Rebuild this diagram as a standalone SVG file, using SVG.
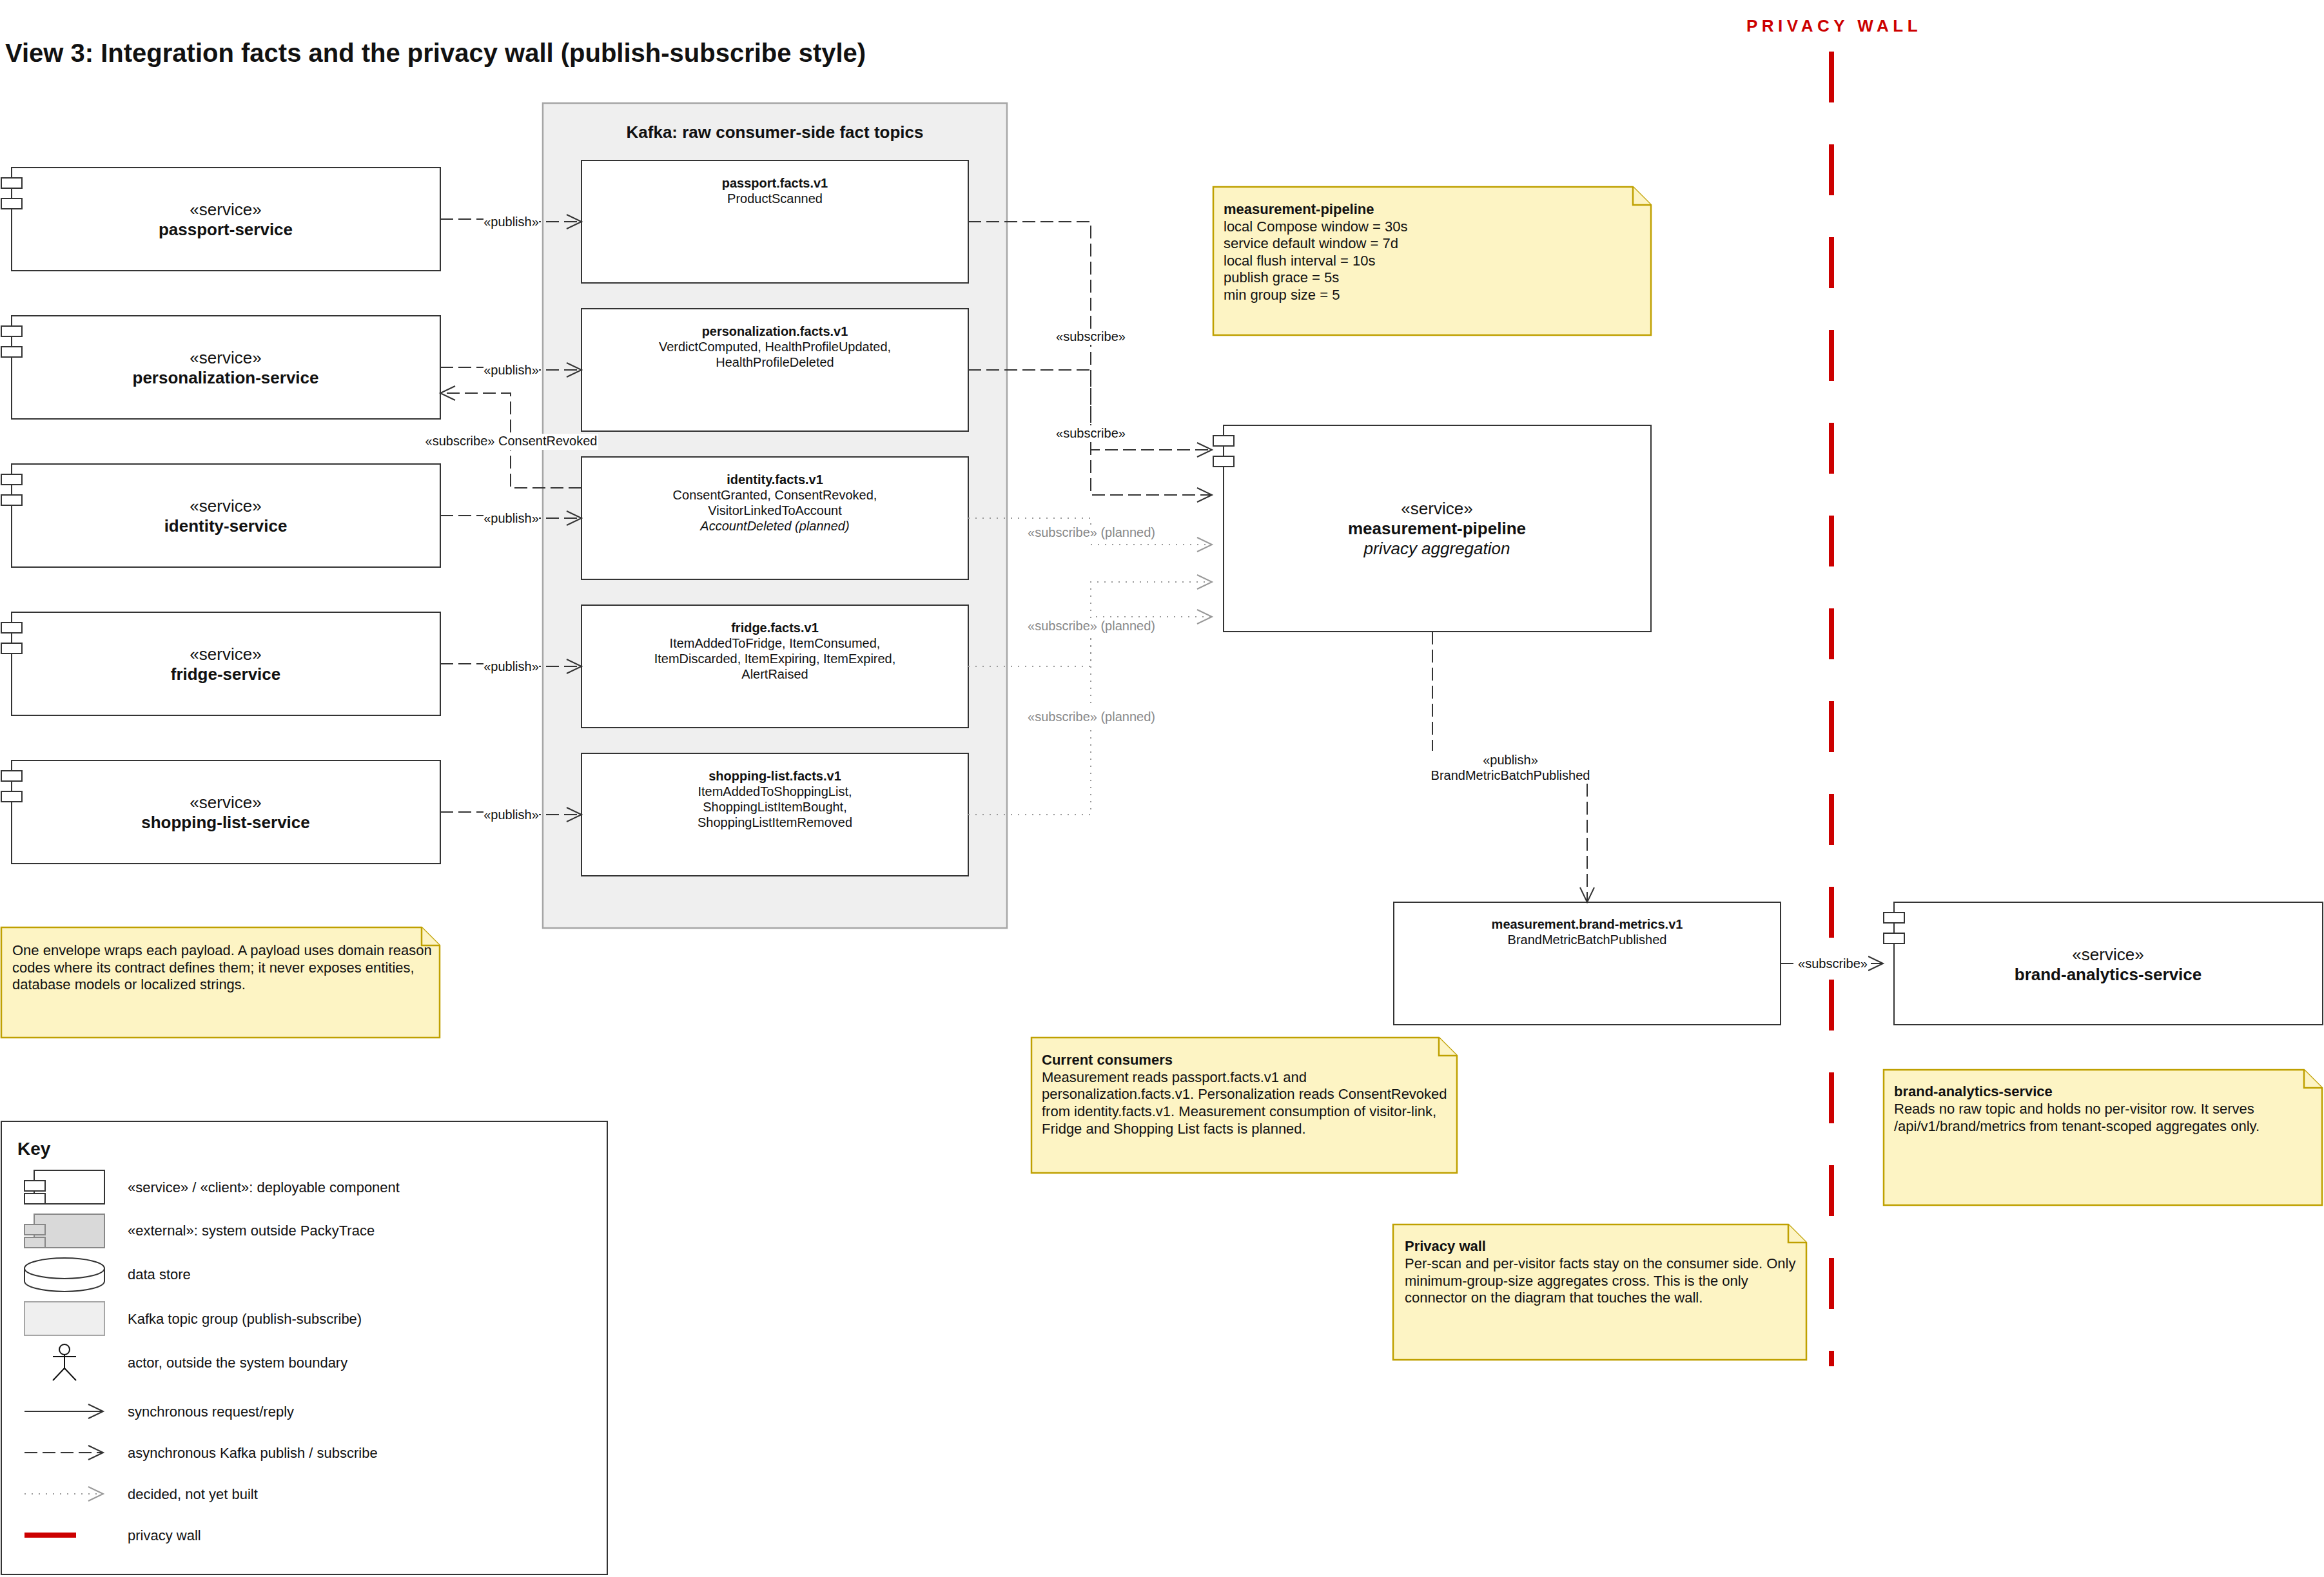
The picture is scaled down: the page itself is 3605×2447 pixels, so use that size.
<svg xmlns="http://www.w3.org/2000/svg" width="3605" height="2447" viewBox="0 0 3605 2447">
<style>
.t{font-family:"Liberation Sans",Arial,Helvetica,sans-serif;fill:#111}
.b{font-weight:bold}
.i{font-style:italic}
.box{fill:#fff;stroke:#333;stroke-width:2}
.note{fill:#fdf4c4;stroke:#bfa000;stroke-width:2.5}
.grp{fill:#efefef;stroke:#a6a6a6;stroke-width:2.5}
.svc{font-size:26px;text-anchor:middle}
.topic{font-size:20px;text-anchor:middle}
.lbl{font-size:20px;text-anchor:middle}
.gray{fill:#888}
.nt{font-size:22px}
.key{font-size:22px}
.dash{fill:none;stroke:#333;stroke-width:2;stroke-dasharray:20 8}
.dot{fill:none;stroke:#999;stroke-width:2;stroke-dasharray:2 9}
.solid{fill:none;stroke:#333;stroke-width:2}
.bg{fill:#fff}
.wall{stroke:#cc0000;stroke-width:8;fill:none}
</style>
<defs>
<marker id="arr" markerUnits="userSpaceOnUse" markerWidth="30" markerHeight="30" refX="24" refY="12" orient="auto" overflow="visible">
<path d="M1,1 L24,12 L1,23" fill="none" stroke="#333" stroke-width="2" stroke-dasharray="none"/>
</marker>
<marker id="arrg" markerUnits="userSpaceOnUse" markerWidth="30" markerHeight="30" refX="24" refY="12" orient="auto" overflow="visible">
<path d="M1,1 L24,12 L1,23" fill="none" stroke="#999" stroke-width="2" stroke-dasharray="none"/>
</marker>
</defs>
<rect x="0" y="0" width="3605" height="2447" fill="#fff"/>

<text class="t b" x="8" y="96" font-size="40">View 3: Integration facts and the privacy wall (publish-subscribe style)</text>

<!-- privacy wall -->
<g id="privacy-wall">
<text class="t b" x="2845" y="49" font-size="26" text-anchor="middle" letter-spacing="6.5" style="fill:#cc0000">PRIVACY WALL</text>
<line class="wall" x1="2841" y1="80" x2="2841" y2="2120" stroke-dasharray="79 65"/>
</g>

<!-- Kafka group -->
<g id="kafka-group">
<rect class="grp" x="842" y="160" width="720" height="1280"/>
<text class="t b" x="1202" y="214" font-size="26" text-anchor="middle">Kafka: raw consumer-side fact topics</text>
</g>

<g id="topic-passport">
<rect class="box" x="902" y="249" width="600" height="190"/>
<text class="t topic b" x="1202" y="291">passport.facts.v1</text>
<text class="t topic" x="1202" y="315">ProductScanned</text>
</g>
<g id="topic-personalization">
<rect class="box" x="902" y="479" width="600" height="190"/>
<text class="t topic b" x="1202" y="521">personalization.facts.v1</text>
<text class="t topic" x="1202" y="545">VerdictComputed, HealthProfileUpdated,</text>
<text class="t topic" x="1202" y="569">HealthProfileDeleted</text>
</g>
<g id="topic-identity">
<rect class="box" x="902" y="709" width="600" height="190"/>
<text class="t topic b" x="1202" y="751">identity.facts.v1</text>
<text class="t topic" x="1202" y="775">ConsentGranted, ConsentRevoked,</text>
<text class="t topic" x="1202" y="799">VisitorLinkedToAccount</text>
<text class="t topic i" x="1202" y="823">AccountDeleted (planned)</text>
</g>
<g id="topic-fridge">
<rect class="box" x="902" y="939" width="600" height="190"/>
<text class="t topic b" x="1202" y="981">fridge.facts.v1</text>
<text class="t topic" x="1202" y="1005">ItemAddedToFridge, ItemConsumed,</text>
<text class="t topic" x="1202" y="1029">ItemDiscarded, ItemExpiring, ItemExpired,</text>
<text class="t topic" x="1202" y="1053">AlertRaised</text>
</g>
<g id="topic-shopping-list">
<rect class="box" x="902" y="1169" width="600" height="190"/>
<text class="t topic b" x="1202" y="1211">shopping-list.facts.v1</text>
<text class="t topic" x="1202" y="1235">ItemAddedToShoppingList,</text>
<text class="t topic" x="1202" y="1259">ShoppingListItemBought,</text>
<text class="t topic" x="1202" y="1283">ShoppingListItemRemoved</text>
</g>

<!-- services -->
<g id="passport-service">
<rect class="box" x="18" y="260" width="665" height="160"/>
<rect class="box" x="2" y="276" width="32" height="16"/>
<rect class="box" x="2" y="308" width="32" height="16"/>
<text class="t svc" x="350" y="334">«service»</text>
<text class="t svc b" x="350" y="365">passport-service</text>
</g>
<g id="personalization-service">
<rect class="box" x="18" y="490" width="665" height="160"/>
<rect class="box" x="2" y="506" width="32" height="16"/>
<rect class="box" x="2" y="538" width="32" height="16"/>
<text class="t svc" x="350" y="564">«service»</text>
<text class="t svc b" x="350" y="595">personalization-service</text>
</g>
<g id="identity-service">
<rect class="box" x="18" y="720" width="665" height="160"/>
<rect class="box" x="2" y="736" width="32" height="16"/>
<rect class="box" x="2" y="768" width="32" height="16"/>
<text class="t svc" x="350" y="794">«service»</text>
<text class="t svc b" x="350" y="825">identity-service</text>
</g>
<g id="fridge-service">
<rect class="box" x="18" y="950" width="665" height="160"/>
<rect class="box" x="2" y="966" width="32" height="16"/>
<rect class="box" x="2" y="998" width="32" height="16"/>
<text class="t svc" x="350" y="1024">«service»</text>
<text class="t svc b" x="350" y="1055">fridge-service</text>
</g>
<g id="shopping-list-service">
<rect class="box" x="18" y="1180" width="665" height="160"/>
<rect class="box" x="2" y="1196" width="32" height="16"/>
<rect class="box" x="2" y="1228" width="32" height="16"/>
<text class="t svc" x="350" y="1254">«service»</text>
<text class="t svc b" x="350" y="1285">shopping-list-service</text>
</g>

<g id="measurement-pipeline">
<rect class="box" x="1898" y="660" width="663" height="320"/>
<rect class="box" x="1882" y="676" width="32" height="16"/>
<rect class="box" x="1882" y="708" width="32" height="16"/>
<text class="t svc" x="2229" y="798">«service»</text>
<text class="t svc b" x="2229" y="829">measurement-pipeline</text>
<text class="t svc i" x="2229" y="860">privacy aggregation</text>
</g>

<g id="topic-brand-metrics">
<rect class="box" x="2162" y="1400" width="600" height="190"/>
<text class="t topic b" x="2462" y="1441">measurement.brand-metrics.v1</text>
<text class="t topic" x="2462" y="1465">BrandMetricBatchPublished</text>
</g>

<g id="brand-analytics-service">
<rect class="box" x="2938" y="1400" width="665" height="190"/>
<rect class="box" x="2922" y="1416" width="32" height="16"/>
<rect class="box" x="2922" y="1448" width="32" height="16"/>
<text class="t svc" x="3270" y="1490">«service»</text>
<text class="t svc b" x="3270" y="1521">brand-analytics-service</text>
</g>

<!-- notes -->
<g id="note-measurement">
<path class="note" d="M1882,290 H2533 L2561,318 V520 H1882 Z"/>
<path class="note" d="M2533,290 V318 H2561"/>
<text class="t nt b" x="1898" y="332">measurement-pipeline</text>
<text class="t nt" x="1898" y="358.5">local Compose window = 30s</text>
<text class="t nt" x="1898" y="385">service default window = 7d</text>
<text class="t nt" x="1898" y="411.5">local flush interval = 10s</text>
<text class="t nt" x="1898" y="438">publish grace = 5s</text>
<text class="t nt" x="1898" y="464.5">min group size = 5</text>
</g>
<g id="note-envelope">
<path class="note" d="M2,1439 H654 L682,1467 V1610 H2 Z"/>
<path class="note" d="M654,1439 V1467 H682"/>
<text class="t nt" x="19" y="1482">One envelope wraps each payload. A payload uses domain reason</text>
<text class="t nt" x="19" y="1508.5">codes where its contract defines them; it never exposes entities,</text>
<text class="t nt" x="19" y="1535">database models or localized strings.</text>
</g>
<g id="note-consumers">
<path class="note" d="M1600,1610 H2232 L2260,1638 V1820 H1600 Z"/>
<path class="note" d="M2232,1610 V1638 H2260"/>
<text class="t nt b" x="1616" y="1652">Current consumers</text>
<text class="t nt" x="1616" y="1679">Measurement reads passport.facts.v1 and</text>
<text class="t nt" x="1616" y="1705">personalization.facts.v1. Personalization reads ConsentRevoked</text>
<text class="t nt" x="1616" y="1732">from identity.facts.v1. Measurement consumption of visitor-link,</text>
<text class="t nt" x="1616" y="1759">Fridge and Shopping List facts is planned.</text>
</g>
<g id="note-brand-analytics">
<path class="note" d="M2922,1660 H3574 L3602,1688 V1870 H2922 Z"/>
<path class="note" d="M3574,1660 V1688 H3602"/>
<text class="t nt b" x="2938" y="1701">brand-analytics-service</text>
<text class="t nt" x="2938" y="1728">Reads no raw topic and holds no per-visitor row. It serves</text>
<text class="t nt" x="2938" y="1755">/api/v1/brand/metrics from tenant-scoped aggregates only.</text>
</g>
<g id="note-privacy-wall">
<path class="note" d="M2161,1900 H2774 L2802,1928 V2110 H2161 Z"/>
<path class="note" d="M2774,1900 V1928 H2802"/>
<text class="t nt b" x="2179" y="1941">Privacy wall</text>
<text class="t nt" x="2179" y="1968">Per-scan and per-visitor facts stay on the consumer side. Only</text>
<text class="t nt" x="2179" y="1995">minimum-group-size aggregates cross. This is the only</text>
<text class="t nt" x="2179" y="2021">connector on the diagram that touches the wall.</text>
</g>

<!-- connectors -->
<g id="connectors">
<path class="dash" d="M683,340 H793 V344 H902" marker-end="url(#arr)"/>
<path class="dash" d="M683,570 H793 V574 H902" marker-end="url(#arr)"/>
<path class="dash" d="M683,800 H793 V804 H902" marker-end="url(#arr)"/>
<path class="dash" d="M683,1030 H793 V1034 H902" marker-end="url(#arr)"/>
<path class="dash" d="M683,1260 H793 V1264 H902" marker-end="url(#arr)"/>
<rect class="bg" x="750" y="332" width="86" height="26"/>
<text class="t lbl" x="793" y="351">«publish»</text>
<rect class="bg" x="750" y="562" width="86" height="26"/>
<text class="t lbl" x="793" y="581">«publish»</text>
<rect class="bg" x="750" y="792" width="86" height="26"/>
<text class="t lbl" x="793" y="811">«publish»</text>
<rect class="bg" x="750" y="1022" width="86" height="26"/>
<text class="t lbl" x="793" y="1041">«publish»</text>
<rect class="bg" x="750" y="1252" width="86" height="26"/>
<text class="t lbl" x="793" y="1271">«publish»</text>

<path class="dash" d="M902,757 H792 V610 H683" marker-end="url(#arr)"/>
<rect class="bg" x="658" y="673" width="270" height="25"/>
<text class="t lbl" x="793" y="691">«subscribe» ConsentRevoked</text>

<path class="dash" d="M1502,344 H1692 V768 H1880" marker-end="url(#arr)"/>
<path class="dash" d="M1502,574 H1692 V698 H1880" marker-end="url(#arr)"/>
<rect class="bg" x="1637" y="510" width="110" height="25"/>
<text class="t lbl" x="1692" y="529">«subscribe»</text>
<rect class="bg" x="1637" y="660" width="110" height="25"/>
<text class="t lbl" x="1692" y="679">«subscribe»</text>

<path class="dot" d="M1502,804 H1692 V845 H1880" marker-end="url(#arrg)"/>
<path class="dot" d="M1502,1034 H1692 V957 H1880" marker-end="url(#arrg)"/>
<path class="dot" d="M1502,1264 H1692 V903 H1880" marker-end="url(#arrg)"/>
<rect class="bg" x="1592" y="814" width="202" height="25"/>
<text class="t lbl gray" x="1693" y="833">«subscribe» (planned)</text>
<rect class="bg" x="1592" y="959" width="202" height="25"/>
<text class="t lbl gray" x="1693" y="978">«subscribe» (planned)</text>
<rect class="bg" x="1592" y="1100" width="202" height="25"/>
<text class="t lbl gray" x="1693" y="1119">«subscribe» (planned)</text>

<path class="dash" d="M2222,980 V1190 H2462 V1400" marker-end="url(#arr)"/>
<rect class="bg" x="2217" y="1165" width="252" height="50"/>
<text class="t lbl" x="2343" y="1186">«publish»</text>
<text class="t lbl" x="2343" y="1210">BrandMetricBatchPublished</text>

<path class="dash" d="M2762,1495 H2921" marker-end="url(#arr)"/>
<rect class="bg" x="2788" y="1483" width="110" height="25"/>
<text class="t lbl" x="2843" y="1502">«subscribe»</text>
</g>

<!-- key -->
<g id="key">
<rect x="2" y="1740" width="940" height="703" fill="#fff" stroke="#333" stroke-width="2"/>
<text class="t b" x="27" y="1792" font-size="28">Key</text>
<rect class="box" x="53" y="1816" width="109" height="52"/>
<rect class="box" x="38" y="1832" width="32" height="16"/>
<rect class="box" x="38" y="1852" width="32" height="16"/>
<text class="t key" x="198" y="1850">«service» / «client»: deployable component</text>
<rect x="53" y="1884" width="109" height="52" fill="#d9d9d9" stroke="#888" stroke-width="2"/>
<rect x="38" y="1900" width="32" height="16" fill="#d9d9d9" stroke="#888" stroke-width="2"/>
<rect x="38" y="1920" width="32" height="16" fill="#d9d9d9" stroke="#888" stroke-width="2"/>
<text class="t key" x="198" y="1917">«external»: system outside PackyTrace</text>
<path d="M38,1968 A62,16 0 0 1 162,1968 V1988 A62,16 0 0 1 38,1988 Z" fill="#fff" stroke="#333" stroke-width="2"/>
<path d="M38,1968 A62,16 0 0 0 162,1968" fill="none" stroke="#333" stroke-width="2"/>
<text class="t key" x="198" y="1985">data store</text>
<rect x="38" y="2020" width="124" height="52" fill="#efefef" stroke="#a6a6a6" stroke-width="2"/>
<text class="t key" x="198" y="2054">Kafka topic group (publish-subscribe)</text>
<circle cx="100" cy="2094" r="8" fill="#fff" stroke="#111" stroke-width="2"/>
<path d="M100,2102 V2123 M82,2105 H118 M100,2123 L82,2142 M100,2123 L118,2142" fill="none" stroke="#111" stroke-width="2"/>
<text class="t key" x="198" y="2122">actor, outside the system boundary</text>
<path class="solid" d="M38,2190 H160" marker-end="url(#arr)"/>
<text class="t key" x="198" y="2198">synchronous request/reply</text>
<path class="dash" d="M38,2254 H160" marker-end="url(#arr)"/>
<text class="t key" x="198" y="2262">asynchronous Kafka publish / subscribe</text>
<path class="dot" d="M38,2318 H160" marker-end="url(#arrg)"/>
<text class="t key" x="198" y="2326">decided, not yet built</text>
<rect x="38" y="2378" width="80" height="8" fill="#cc0000"/>
<text class="t key" x="198" y="2390">privacy wall</text>
</g>
</svg>
